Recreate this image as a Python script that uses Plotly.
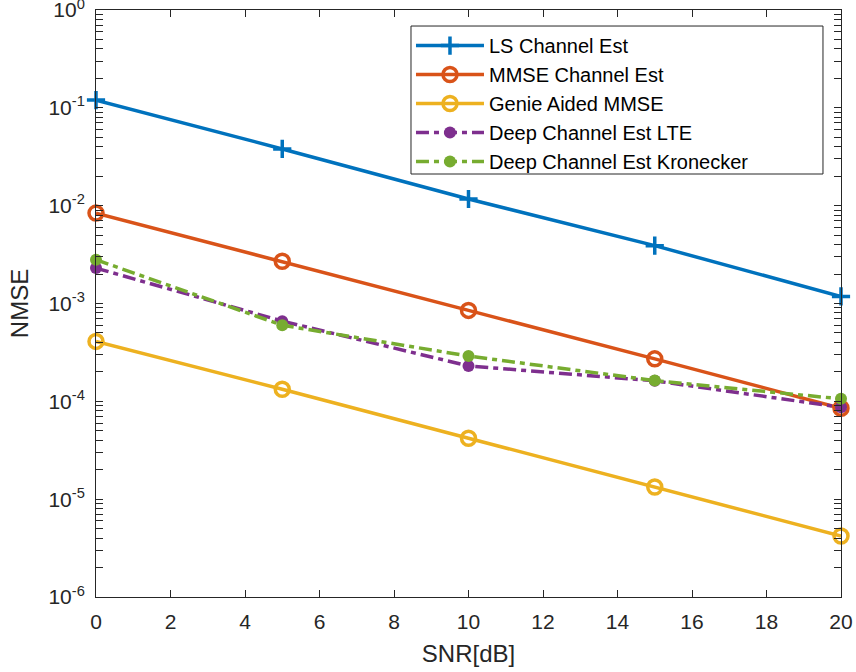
import plotly.graph_objects as go

snr = [0, 5, 10, 15, 20]
ls_est = [0.12, 0.038, 0.0117, 0.0039, 0.00118]
mmse_est = [0.0084, 0.0027, 0.00085, 0.000272, 0.000085]
genie_mmse = [0.00041, 0.000133, 0.000042, 0.0000133, 0.0000042]
deep_lte = [0.0023, 0.00066, 0.00023, 0.000162, 0.000087]
deep_kron = [0.0028, 0.0006, 0.00029, 0.000163, 0.000106]

names = ["LS Channel Est", "MMSE Channel Est", "Genie Aided MMSE",
         "Deep Channel Est LTE", "Deep Channel Est Kronecker"]

y_tickvals = [1e0, 1e-1, 1e-2, 1e-3, 1e-4, 1e-5, 1e-6]
y_ticktext = ["10<sup>0</sup>", "10<sup>-1</sup>", "10<sup>-2</sup>", "10<sup>-3</sup>",
              "10<sup>-4</sup>", "10<sup>-5</sup>", "10<sup>-6</sup>"]
x_tickvals = [0, 2, 4, 6, 8, 10, 12, 14, 16, 18, 20]

minor_vals = [m * 10.0 ** e for e in range(-6, 0) for m in range(2, 10)]

c_blue, c_orange, c_yellow, c_purple, c_green = "#0072BD", "#D95319", "#EDB120", "#7E2F8E", "#77AC30"
dashdot = "13px,5px,5px,5px"

fig = go.Figure()
fig.add_trace(go.Scatter(x=snr, y=ls_est, name=names[0], mode="lines+markers", cliponaxis=False,
                         line=dict(color=c_blue, width=3.5),
                         marker=dict(symbol="cross-thin", size=13, color=c_blue,
                                     line=dict(color=c_blue, width=3.5))))
fig.add_trace(go.Scatter(x=snr, y=mmse_est, name=names[1], mode="lines+markers", cliponaxis=False,
                         line=dict(color=c_orange, width=3.5),
                         marker=dict(symbol="circle-open", size=14, color=c_orange,
                                     line=dict(color=c_orange, width=3.5))))
fig.add_trace(go.Scatter(x=snr, y=genie_mmse, name=names[2], mode="lines+markers", cliponaxis=False,
                         line=dict(color=c_yellow, width=3.5),
                         marker=dict(symbol="circle-open", size=14, color=c_yellow,
                                     line=dict(color=c_yellow, width=3.5))))
fig.add_trace(go.Scatter(x=snr, y=deep_lte, name=names[3], mode="lines+markers", cliponaxis=False,
                         line=dict(color=c_purple, width=3.5, dash=dashdot),
                         marker=dict(symbol="circle", size=12, color=c_purple)))
fig.add_trace(go.Scatter(x=snr, y=deep_kron, name=names[4], mode="lines+markers", cliponaxis=False,
                         line=dict(color=c_green, width=3.5, dash=dashdot),
                         marker=dict(symbol="circle", size=12, color=c_green)))

axis_color = "#262626"

# legend frame (MATLAB-style wide box)
fig.add_shape(type="rect", xref="paper", yref="paper", x0=0.4228, x1=0.9758,
              y0=0.7206, y1=0.9727, layer="above",
              fillcolor="white", line=dict(color=axis_color, width=1))

fig.update_layout(
    width=856, height=672,
    margin=dict(l=96, r=15, t=10, b=75, autoexpand=False),
    paper_bgcolor="white", plot_bgcolor="white",
    font=dict(family="Liberation Sans, Arial, sans-serif", size=21, color=axis_color),
    showlegend=True,
    legend=dict(x=0.4228, y=0.9727, xanchor="left", yanchor="top",
                bgcolor="rgba(0,0,0,0)", borderwidth=0,
                font=dict(size=20, color="black"), itemwidth=68,
                tracegroupgap=0, traceorder="normal"),
    xaxis=dict(range=[0, 20], tickvals=x_tickvals, ticks="inside", ticklen=7,
               tickcolor=axis_color, showline=True, linecolor=axis_color, linewidth=1,
               mirror="allticks", showgrid=False, zeroline=False, automargin=False,
               ticklabeloverflow="allow",
               title=dict(text="SNR[dB]", font=dict(size=24), standoff=12),
               ticklabelstandoff=6),
    yaxis=dict(type="log", range=[-6, 0], tickvals=y_tickvals, ticktext=y_ticktext,
               ticks="inside", ticklen=7, tickcolor=axis_color,
               showline=True, linecolor=axis_color, linewidth=1,
               mirror="allticks", showgrid=False, zeroline=False, automargin=False,
               ticklabeloverflow="allow",
               minor=dict(tickvals=minor_vals, ticks="inside", ticklen=7,
                          tickcolor=axis_color, showgrid=False),
               title=dict(text="NMSE", font=dict(size=24), standoff=12),
               ticklabelstandoff=6),
)

fig.write_html("out.html")
